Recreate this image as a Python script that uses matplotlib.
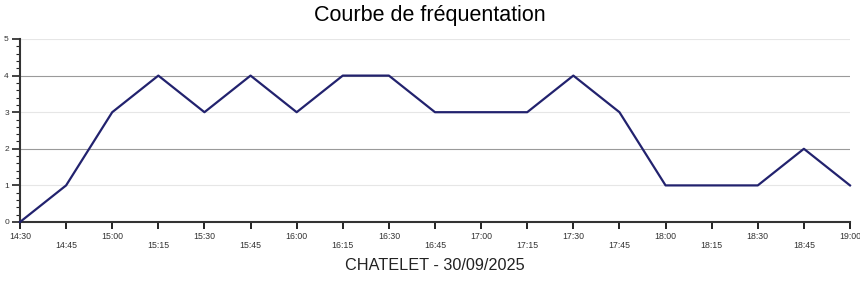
import numpy as np
import matplotlib
matplotlib.use('Agg')
import matplotlib.pyplot as plt
from matplotlib.ticker import MultipleLocator

# data
times = ['14:30', '14:45', '15:00', '15:15', '15:30', '15:45', '16:00', '16:15',
         '16:30', '16:45', '17:00', '17:15', '17:30', '17:45', '18:00', '18:15',
         '18:30', '18:45', '19:00']
counts = [0, 1, 3, 4, 3, 4, 3, 4, 4, 3, 3, 3, 4, 3, 1, 1, 1, 2, 1]
title = 'Courbe de fréquentation'
xlabel = 'CHATELET - 30/09/2025'

plt.rcParams['font.family'] = ['Liberation Sans', 'DejaVu Sans']

fig = plt.figure(figsize=(8.6, 2.84), dpi=100)
ax = fig.add_axes([20 / 860, 62 / 284, 830 / 860, 183 / 284])

x = np.arange(len(times))

# horizontal grid
for yv in [1, 3, 5]:
    ax.axhline(yv, color='#e6e6e6', lw=0.8, zorder=0)
for yv in [2, 4]:
    ax.axhline(yv, color='#9a9a9a', lw=0.8, zorder=0)

ax.plot(x, counts, color='#22226e', lw=1.6, zorder=3, clip_on=False)

ax.set_xlim(0, len(times) - 1)
ax.set_ylim(0, 5)

ax.set_xticks(x)
ax.set_xticklabels(times, fontsize=6.3, color='#333333')
for i, t in enumerate(ax.xaxis.get_major_ticks()):
    t.set_pad(2 if i % 2 == 0 else 9)
ax.tick_params(axis='x', length=5, width=1.4, color='#222222')

ax.yaxis.set_major_locator(MultipleLocator(1))
ax.yaxis.set_minor_locator(MultipleLocator(0.2))
ax.tick_params(axis='y', which='major', length=6, width=1.2, labelsize=6,
               color='#222222', labelcolor='#333333', pad=2)
ax.tick_params(axis='y', which='minor', length=3, width=0.8, color='#222222')

for s in ['top', 'right']:
    ax.spines[s].set_visible(False)
for s in ['left', 'bottom']:
    ax.spines[s].set_linewidth(1.5)
    ax.spines[s].set_color('#333333')

fig.text(430 / 860, 1 - 16 / 284, title, ha='center', va='center', fontsize=15.5)
fig.text(435 / 860, 1 - 266 / 284, xlabel, ha='center', va='center', fontsize=11.7,
         color='#222222')

fig.savefig('out.png', dpi=100)
plt.close()
